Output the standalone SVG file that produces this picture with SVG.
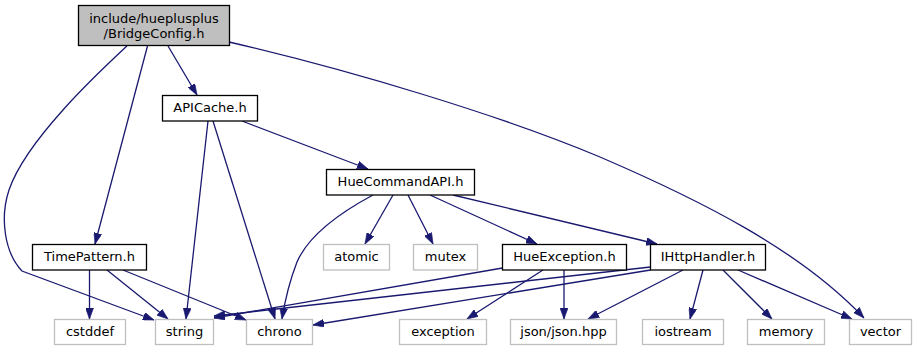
<svg xmlns="http://www.w3.org/2000/svg" width="917" height="351" viewBox="0 0 917 351">
  <defs>
    <marker id="arrow" markerUnits="userSpaceOnUse" markerWidth="11" markerHeight="8" refX="11" refY="4" orient="auto">
      <path d="M0,0 L11,4 L0,8 z" fill="#191970" stroke="#191970" stroke-width="0.6"/>
    </marker>
    <style>
      .node rect { fill: #ffffff; stroke-width: 1.3; }
      .dep rect { stroke: #000000; }
      .ext rect { stroke: #bfbfbf; }
      .root rect { fill: #bfbfbf; stroke: #000000; }
      text { font-family: "DejaVu Sans", "Noto Sans", sans-serif; font-size: 13px; fill: #000000; text-anchor: middle; }
      .edges path { fill: none; stroke: #191970; stroke-width: 1.3; marker-end: url(#arrow); }
    </style>
  </defs>
  <rect x="0" y="0" width="917" height="351" fill="#ffffff"/>

  <g class="edges" id="edges">
    <path id="e_root_apicache" d="M168,46 L197,95"/>
    <path id="e_root_vector" d="M229,42 C350,70 500,115 600,157 C700,200 800,250 864,318"/>
    <path id="e_root_string" d="M127,46 C98,73 26,140 9,190 C0,217 4,252 22,271 L154,320"/>
    <path id="e_root_timepattern" d="M147.5,46 L95,244"/>
    <path id="e_apicache_hca" d="M242,121 L368,169"/>
    <path id="e_apicache_string" d="M208,121 L186,319"/>
    <path id="e_apicache_chrono" d="M213,121 L275,319"/>
    <path id="e_hca_chrono" d="M373,195 C345,210 310,232 297,262 C290,280 285,300 282,319"/>
    <path id="e_hca_atomic" d="M393,195 L365,244"/>
    <path id="e_hca_mutex" d="M408,195 L433,244"/>
    <path id="e_hca_hueexception" d="M430,195 L537,244"/>
    <path id="e_hca_ihttphandler" d="M453,195 L657,244"/>
    <path id="e_tp_cstddef" d="M89.5,270 L89.5,319"/>
    <path id="e_tp_string" d="M107,270 L168,319"/>
    <path id="e_tp_chrono" d="M123,270 L246,320"/>
    <path id="e_he_string" d="M502.5,268 L214,318"/>
    <path id="e_he_exception" d="M543,270 L467,319"/>
    <path id="e_he_json" d="M564,270 L564,319"/>
    <path id="e_ih_string" d="M650.5,267 L214,316"/>
    <path id="e_ih_chrono" d="M650.5,270 L313,325"/>
    <path id="e_ih_json" d="M683,270 L588,319"/>
    <path id="e_ih_iostream" d="M703,270 L690,319"/>
    <path id="e_ih_memory" d="M723,270 L772,319"/>
    <path id="e_ih_vector" d="M738,270 L852,319"/>
  </g>

  <g id="node_bridgeconfig" class="node root">
    <rect x="78.5" y="5.5" width="151" height="40"/>
    <text x="154" y="22.5">include/hueplusplus</text>
    <text x="154" y="37.5">/BridgeConfig.h</text>
  </g>
  <g id="node_apicache" class="node dep">
    <rect x="162.5" y="95.5" width="95" height="25.5"/>
    <text x="210" y="112">APICache.h</text>
  </g>
  <g id="node_huecommandapi" class="node dep">
    <rect x="326.5" y="169.5" width="148" height="25.5"/>
    <text x="400.5" y="186">HueCommandAPI.h</text>
  </g>
  <g id="node_timepattern" class="node dep">
    <rect x="32.5" y="244.5" width="114" height="25.5"/>
    <text x="89.5" y="261">TimePattern.h</text>
  </g>
  <g id="node_atomic" class="node ext">
    <rect x="323.5" y="244.5" width="66" height="25.5"/>
    <text x="356.5" y="261">atomic</text>
  </g>
  <g id="node_mutex" class="node ext">
    <rect x="413.5" y="244.5" width="64" height="25.5"/>
    <text x="445.5" y="261">mutex</text>
  </g>
  <g id="node_hueexception" class="node dep">
    <rect x="502.5" y="244.5" width="124" height="25.5"/>
    <text x="564.5" y="261">HueException.h</text>
  </g>
  <g id="node_ihttphandler" class="node dep">
    <rect x="650.5" y="244.5" width="115" height="25.5"/>
    <text x="708" y="261">IHttpHandler.h</text>
  </g>
  <g id="node_cstddef" class="node ext">
    <rect x="54.5" y="319.5" width="71" height="25"/>
    <text x="90" y="335.5">cstddef</text>
  </g>
  <g id="node_string" class="node ext">
    <rect x="155.5" y="319.5" width="58" height="25"/>
    <text x="184.5" y="335.5">string</text>
  </g>
  <g id="node_chrono" class="node ext">
    <rect x="246.5" y="319.5" width="66" height="25"/>
    <text x="279.5" y="335.5">chrono</text>
  </g>
  <g id="node_exception" class="node ext">
    <rect x="399.5" y="319.5" width="87" height="25"/>
    <text x="443" y="335.5">exception</text>
  </g>
  <g id="node_json" class="node ext">
    <rect x="510.5" y="319.5" width="106" height="25"/>
    <text x="563.5" y="335.5">json/json.hpp</text>
  </g>
  <g id="node_iostream" class="node ext">
    <rect x="642.5" y="319.5" width="81" height="25"/>
    <text x="683" y="335.5">iostream</text>
  </g>
  <g id="node_memory" class="node ext">
    <rect x="747.5" y="319.5" width="77" height="25"/>
    <text x="786" y="335.5">memory</text>
  </g>
  <g id="node_vector" class="node ext">
    <rect x="849.5" y="319.5" width="62" height="25"/>
    <text x="880.5" y="335.5">vector</text>
  </g>
</svg>
